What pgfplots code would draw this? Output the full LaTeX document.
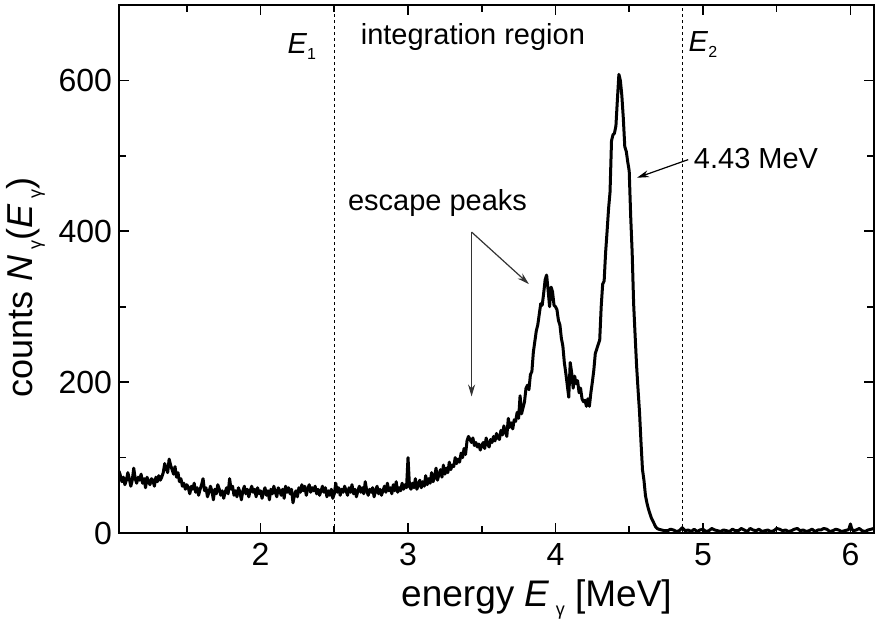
\documentclass[border=0pt]{standalone}
\usepackage{fontspec}
\setmainfont{Liberation Sans}
\usepackage{pgfplots}
\pgfplotsset{compat=1.18}
\usetikzlibrary{arrows.meta,calc}
\newcommand\sub[1]{\raisebox{-0.45ex}{\fontsize{9}{9}\selectfont #1}}
\newcommand\subs[1]{\raisebox{-0.4ex}{\fontsize{8}{8}\selectfont #1}}
\begin{document}
\begin{tikzpicture}
\begin{axis}[name=ax, scale only axis, width=377.5pt, height=264pt,
  xmin=1.04, xmax=6.16, ymin=0, ymax=700,
  xtick={2,3,4,5,6}, minor xtick={1.5,2.5,3.5,4.5,5.5},
  ytick={0,200,400,600}, minor ytick={100,300,500},
  tick align=inside, major tick length=5pt, minor tick length=3.5pt,
  axis line style={line width=1pt},
  every tick/.append style={black, line width=0.8pt},
  ticklabel style={font=\fontsize{16}{18}\selectfont},
  xticklabel style={yshift=-1.5pt},
  /pgf/number format/assume math mode=true,
  xlabel={energy \textit{E}\,\sub{γ} [MeV]},
  ylabel={counts \textit{N}\,\sub{γ}(\textit{E}\,\sub{γ})},
  xlabel style={font=\fontsize{18.5}{21}\selectfont, at={(ticklabel cs:0.553)}, anchor=north},
  ylabel style={font=\fontsize{18}{21}\selectfont, at={(ticklabel cs:0.465)}},
  clip=true,
]
\addplot[black, line width=1.5pt, line join=round, no marks] table {
x y
1.04 82
1.05 76
1.06 68
1.07 74
1.08 64
1.09 70
1.10 80
1.11 72
1.12 62
1.13 70
1.14 86
1.15 72
1.16 66
1.17 74
1.18 70
1.19 78
1.20 66
1.21 72
1.22 60
1.23 74
1.24 68
1.25 64
1.26 72
1.27 70
1.28 62
1.29 74
1.30 68
1.31 76
1.32 70
1.33 74
1.34 80
1.35 92
1.36 86
1.37 80
1.38 98
1.39 90
1.40 84
1.41 78
1.42 88
1.43 74
1.44 80
1.45 68
1.46 72
1.47 62
1.48 66
1.49 58
1.50 64
1.51 60
1.52 52
1.53 62
1.54 58
1.55 66
1.56 54
1.57 60
1.58 50
1.59 58
1.60 64
1.61 72
1.62 56
1.63 60
1.64 48
1.65 54
1.66 62
1.67 56
1.68 44
1.69 58
1.70 52
1.71 64
1.72 58
1.73 50
1.74 56
1.75 46
1.76 54
1.77 60
1.78 52
1.79 72
1.80 58
1.81 62
1.82 50
1.83 56
1.84 48
1.85 60
1.86 54
1.87 44
1.88 56
1.89 62
1.90 52
1.91 58
1.92 48
1.93 56
1.94 62
1.95 54
1.96 58
1.97 48
1.98 60
1.99 52
2.00 56
2.01 46
2.02 54
2.03 60
2.04 50
2.05 56
2.06 44
2.07 58
2.08 52
2.09 62
2.10 54
2.11 48
2.12 60
2.13 56
2.14 50
2.15 58
2.16 46
2.17 62
2.18 54
2.19 60
2.20 52
2.21 58
2.22 40
2.23 50
2.24 56
2.25 48
2.26 60
2.27 54
2.28 64
2.29 56
2.30 62
2.31 50
2.32 58
2.33 64
2.34 54
2.35 60
2.36 56
2.37 62
2.38 52
2.39 58
2.40 50
2.41 56
2.42 62
2.43 54
2.44 60
2.45 48
2.46 56
2.47 50
2.48 58
2.49 46
2.50 52
2.51 66
2.52 54
2.53 60
2.54 50
2.55 58
2.56 54
2.57 62
2.58 56
2.59 50
2.60 60
2.61 54
2.62 64
2.63 52
2.64 58
2.65 48
2.66 56
2.67 62
2.68 54
2.69 60
2.70 52
2.71 68
2.72 56
2.73 50
2.74 58
2.75 54
2.76 60
2.77 48
2.78 56
2.79 62
2.80 52
2.81 58
2.82 50
2.83 56
2.84 62
2.85 54
2.86 66
2.87 56
2.88 60
2.89 52
2.90 64
2.91 56
2.92 68
2.93 54
2.94 60
2.95 56
2.96 66
2.97 58
2.98 64
2.99 60
3.00 100
3.01 62
3.02 58
3.03 66
3.04 60
3.05 72
3.06 58
3.07 64
3.08 70
3.09 60
3.10 68
3.11 62
3.12 76
3.13 64
3.14 72
3.15 66
3.16 80
3.17 68
3.18 74
3.19 86
3.20 70
3.21 78
3.22 84
3.23 74
3.24 90
3.25 78
3.26 86
3.27 80
3.28 94
3.29 84
3.30 90
3.31 88
3.32 100
3.33 92
3.34 98
3.35 94
3.36 106
3.37 100
3.38 112
3.39 104
3.40 122
3.41 128
3.42 124
3.43 120
3.44 126
3.45 116
3.46 120
3.47 114
3.48 118
3.49 110
3.50 116
3.51 120
3.52 112
3.53 126
3.54 118
3.55 114
3.56 124
3.57 120
3.58 128
3.59 122
3.60 132
3.61 126
3.62 124
3.63 136
3.64 130
3.65 142
3.66 134
3.67 128
3.68 152
3.69 140
3.70 146
3.71 138
3.72 150
3.73 148
3.74 160
3.75 152
3.76 182
3.77 158
3.78 166
3.79 174
3.80 192
3.81 196
3.82 190
3.83 210
3.84 214
3.85 240
3.86 254
3.87 268
3.88 276
3.89 290
3.90 304
3.91 302
3.92 318
3.93 336
3.94 342
3.95 322
3.96 300
3.97 326
3.98 320
3.99 302
4.00 300
4.01 296
4.02 282
4.03 276
4.04 258
4.05 248
4.06 226
4.07 212
4.08 196
4.09 180
4.10 226
4.11 212
4.12 192
4.13 208
4.14 198
4.15 202
4.16 186
4.17 192
4.18 178
4.19 174
4.20 176
4.21 168
4.22 178
4.23 168
4.24 186
4.25 200
4.26 216
4.27 238
4.28 244
4.29 250
4.30 256
4.31 300
4.32 330
4.33 334
4.34 372
4.35 400
4.36 430
4.37 452
4.38 520
4.39 528
4.40 530
4.41 540
4.42 575
4.43 608
4.44 600
4.45 580
4.46 550
4.47 512
4.48 506
4.49 492
4.50 480
4.51 420
4.52 372
4.53 304
4.54 262
4.55 222
4.56 190
4.57 160
4.58 120
4.59 84
4.60 70
4.61 50
4.62 40
4.63 32
4.64 26
4.65 20
4.66 16
4.67 12
4.68 8
4.69 6
4.70 5
4.72 4
4.74 3
4.76 3
4.78 5
4.80 4
4.82 2
4.84 3
4.86 7
4.88 3
4.90 4
4.92 2
4.94 5
4.96 2
4.98 4
5.00 5
5.02 2
5.04 3
5.06 6
5.08 4
5.10 3
5.12 2
5.14 4
5.16 3
5.18 2
5.20 5
5.22 3
5.24 3
5.26 6
5.28 4
5.30 2
5.32 6
5.34 4
5.36 3
5.38 5
5.40 2
5.42 3
5.44 4
5.46 2
5.48 3
5.50 6
5.52 5
5.54 3
5.56 4
5.58 2
5.60 3
5.62 5
5.64 6
5.66 3
5.68 4
5.70 2
5.72 3
5.74 5
5.76 2
5.78 4
5.80 4
5.82 6
5.84 5
5.86 2
5.88 3
5.90 5
5.92 4
5.94 2
5.96 3
5.98 4
5.99 5
6.00 12
6.01 5
6.02 3
6.04 4
6.06 6
6.08 3
6.10 2
6.12 4
6.14 5
6.16 6
};
\addplot[black, line width=0.7pt, dash pattern=on 1.5pt off 1.5pt, no marks] coordinates {(2.5,0) (2.5,700)};
\addplot[black, line width=0.7pt, dash pattern=on 1.5pt off 1.5pt, no marks] coordinates {(4.86,0) (4.86,700)};
\node[font=\fontsize{14.5}{16}\selectfont] at (axis cs:2.28,645) {\textit{E}\subs{1}};
\node[font=\fontsize{14.5}{16}\selectfont] at (axis cs:3.44,658) {integration region};
\node[font=\fontsize{14.5}{16}\selectfont] at (axis cs:5.0,648) {\textit{E}\subs{2}};
\node[font=\fontsize{14.5}{16}\selectfont] at (axis cs:5.36,497) {4.43 MeV};
\node[font=\fontsize{14.5}{16}\selectfont] at (axis cs:3.20,438) {escape peaks};
\draw[black, line width=0.6pt, -{Stealth[length=6pt,width=3.5pt]}] (axis cs:4.90,495) -- (axis cs:4.553,471);
\draw[black!80, line width=0.6pt, -{Stealth[length=6pt,width=3.5pt]}] (axis cs:3.431,399) -- (axis cs:3.82,330);
\draw[black!80, line width=0.6pt, -{Stealth[length=6pt,width=3.5pt]}] (axis cs:3.431,399) -- (axis cs:3.431,181);
\end{axis}
\pgfresetboundingbox
\path[use as bounding box] ($(ax.south west)+(-59.5pt,-44pt)$) rectangle ($(ax.north east)+(0.5pt,2.5pt)$);
\end{tikzpicture}
\end{document}
